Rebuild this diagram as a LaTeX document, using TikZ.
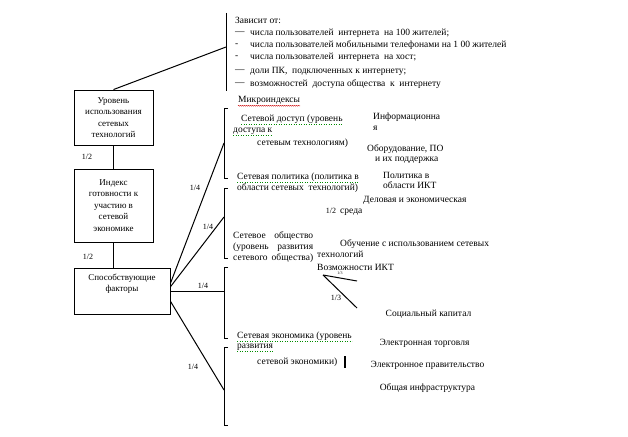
\documentclass[tikz,border=0pt]{standalone}
\usepackage{fontspec}
\setmainfont{Liberation Serif}
\usepackage{tikz}
\usetikzlibrary{positioning}
\usetikzlibrary{decorations.pathmorphing}
\tikzstyle{factorbox}=[draw,line width=0.9pt,align=center,inner sep=0pt,font=\fontsize{9}{11.5}\selectfont]
\tikzstyle{boxtext}=[align=center,inner sep=0pt,font=\fontsize{9}{10.5}\selectfont]
\tikzstyle{txt}=[anchor=west,inner sep=0pt,font=\fontsize{9.5}{10}\selectfont]
\tikzstyle{ctxt}=[inner sep=0pt,font=\fontsize{9.5}{10}\selectfont]
\tikzstyle{link}=[draw,line width=1pt]
\tikzstyle{weight}=[inner sep=0pt,font=\fontsize{8}{9}\selectfont]
\tikzstyle{spellred}=[draw=red!80!black,line width=0.4pt,decorate,decoration={snake,amplitude=0.5pt,segment length=2pt}]
\tikzstyle{spellgreen}=[draw=green!55!black,line width=0.5pt,dotted]

\begin{document}
\begin{tikzpicture}[x=1pt,y=-1pt]
\useasboundingbox (0,0) rectangle (628,436);

%Boxes
\node[factorbox,minimum width=79pt,minimum height=55pt] (use) at (113.5,117.5) {Уровень\\ использования\\ сетевых\\ технологий};
\node[factorbox,minimum width=79pt,minimum height=73pt] (ready) at (113.5,205.5) {Индекс\\ готовности к\\ участию в\\ сетевой\\ экономике};
\node[factorbox,minimum width=96pt,minimum height=46pt] (factors) at (122,291) {};
\node[boxtext] (factorstext) at (122,283.5) {Способствующие\\ факторы};

\path[link] (use.south) -- (ready.north);
\path[link] (ready.south) -- (ready.south |- factors.north);
\node[weight] at (87,157) {1/2};
\node[weight] at (88,257) {1/2};

%Depends on
\draw[line width=1pt] (226,13) -- (226,91);
\coordinate (dep) at (226,47);
\path[link] (use.north) -- (dep);
\node[txt] (dep0) at (235,20) {Зависит от:};
\foreach \y/\mark/\name/\label in {33/{---}/dep1/{числа пользователей \ интернета \ на 100 жителей;},
                                  45/{-}/dep2/{числа пользователей мобильными телефонами на 1 00 жителей},
                                  57/{-}/dep3/{числа пользователей \ интернета \ на хост;},
                                  71/{---}/dep4/{доли ПК, \ подключенных к интернету;},
                                  84/{---}/dep5/{возможностей \ доступа общества \ к \ интернету}}
   {
   \node[txt] (\name m) at (235,\y) {\mark};
   \node[txt] (\name) at (250,\y) {\label};
   }

%Brackets
\foreach \top/\bot in {108/178, 188/258, 267/338, 347/425}
   \draw[line width=1pt] (228,\top) -- (224,\top) -- (224,\bot) -- (228,\bot);
\coordinate (br1) at (224,143);
\coordinate (br2) at (224,217);
\coordinate (br3) at (224,291);
\coordinate (br4) at (224,390);

\path[link] (factors.9) -- (br1);
\path[link] (factors.5) -- (br2);
\path[link] (factors.east) -- (br3);
\path[link] (factors.-12) -- (br4);
\node[weight] at (195,188) {1/4};
\node[weight] at (208,227) {1/4};
\node[weight] at (203,286) {1/4};
\node[weight] at (193,367) {1/4};

%Micro indexes
\node[txt] (micro) at (238,100) {Микроиндексы};
\draw[spellred] ([yshift=-1.5pt]micro.south west) -- ([yshift=-1.5pt]micro.south east);

\node[txt] (acc1) at (241,119) {Сетевой доступ (уровень};
\node[txt] (acc2) at (233,131) {доступа к};
\node[txt] (acc3) at (257,143) {сетевым технологиям)};
\node[txt] (pol1) at (237,177) {Сетевая политика (политика в};
\node[txt] (pol2) at (237,188) {области сетевых \ технологий)};
\node[txt] (soc1) at (233,236) {\makebox[80pt][s]{Сетевое общество}};
\node[txt] (soc2) at (233,247) {\makebox[80pt][s]{(уровень развития}};
\node[txt] (soc3) at (233,258) {\makebox[80pt][s]{сетевого общества)}};
\node[txt] (eco1) at (237,336) {Сетевая экономика (уровень};
\node[txt] (eco2) at (237,347) {развития};
\node[txt] (eco3) at (257,362) {сетевой экономики)};
\foreach \name in {acc1, acc2, pol1, eco1, eco2}
   \draw[spellgreen] ([yshift=-1.2pt]\name.south west) -- ([yshift=-1.2pt]\name.south east);
\draw[line width=2pt] (345,356) -- (345,368);

%Sub indexes
\node[txt] (inf1) at (373,117) {Информационна};
\node[txt] (inf2) at (373,128) {я};
\node[txt] (hw1) at (367,149) {Оборудование, ПО};
\node[txt] (hw2) at (375,160) {и их поддержка};
\node[txt] (ictpol1) at (383,175) {Политика в};
\node[txt] (ictpol2) at (383,185) {области ИКТ};
\node[txt] (biz1) at (363,200) {Деловая и экономическая};
\node[txt] (biz2) at (340,212) {среда};
\node[weight] at (331,211) {1/2};
\node[txt] (edu1) at (340,244) {Обучение с использованием сетевых};
\node[txt] (edu2) at (317,254) {технологий};
\node[txt] (ict) at (317,267) {Возможности ИКТ};
\coordinate (ictroot) at (323,275);
\coordinate (ictA) at (357,281);
\coordinate (ictB) at (357,308);
\path[link] (ictroot) -- (ictA);
\path[link] (ictroot) -- (ictB);
\node[weight,font=\fontsize{4}{4}\selectfont] at (340,273.5) {1/3};
\node[weight] at (336,298) {1/3};
\node[ctxt] (soccap) at (428.5,314) {Социальный капитал};
\node[ctxt] (trade) at (424.5,343) {Электронная торговля};
\node[ctxt] (gov) at (427.5,365) {Электронное правительство};
\node[ctxt] (infra) at (427.5,388) {Общая инфраструктура};

\end{tikzpicture}
\end{document}
